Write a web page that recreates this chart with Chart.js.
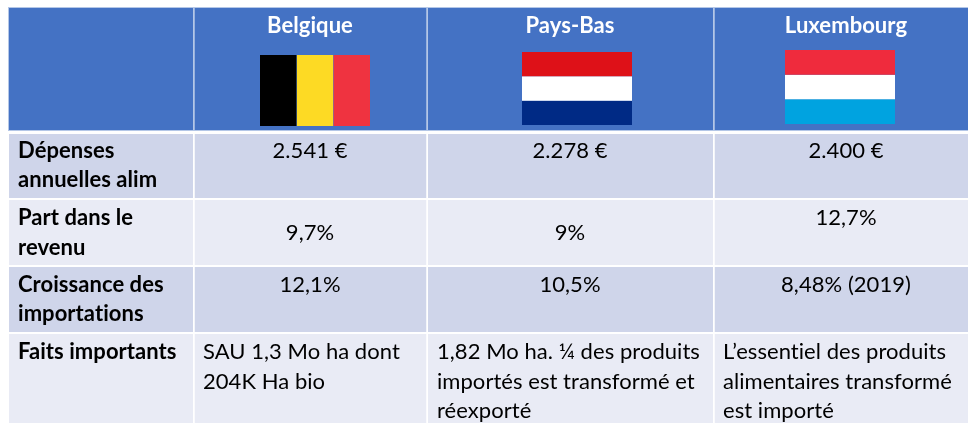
<!DOCTYPE html>
<html lang="fr">
<head>
<meta charset="utf-8">
<title>Belgique, Pays-Bas, Luxembourg</title>
<script src="https://cdn.jsdelivr.net/npm/chart.js@4/dist/chart.umd.min.js"></script>
<style>
    html, body { margin: 0; padding: 0; background: #fff; }
    canvas { display: block; }
</style>
</head>
<body>
<canvas id="table" width="968" height="423"></canvas>
<script>
// table content
const countries = ['Belgique', 'Pays-Bas', 'Luxembourg'];
const rowLabels = [['Dépenses', 'annuelles alim'], ['Part dans le', 'revenu'], ['Croissance des', 'importations'], ['Faits importants']];
const depenses = ['2.541 €', '2.278 €', '2.400 €'];
const partRevenu = ['9,7%', '9%', '12,7%'];
const croissance = ['12,1%', '10,5%', '8,48% (2019)'];
const faits = [
    ['SAU 1,3 Mo ha dont', '204K Ha bio'],
    ['1,82 Mo ha. ¼ des produits', 'importés est transformé et', 'réexporté'],
    ['L’essentiel des produits', 'alimentaires transformé', 'est importé']
];
const flagColors = [
    ['#000000', '#FDDA24', '#EF3340'],
    ['#DE1118', '#FFFFFF', '#002A85'],
    ['#EF2B3D', '#FFFFFF', '#00A3E0']
];

// geometry, in the picture's own units
const colSpans = [[9, 193], [194.5, 426.5], [428, 713], [714.5, 968]];
const rowSpans = [[8, 130], [134, 198], [200, 265], [267, 332], [334, 423]];
const rowFills = ['#4472C4', '#CFD5EA', '#E9EBF5', '#CFD5EA', '#E9EBF5'];
const colCenters = [310, 570, 846];
const factsLeft = [203, 437, 723];
const labelLeft = 18;
const flagBoxes = [[260, 370, 55, 126], [522, 632, 52, 125], [785, 895, 50, 124]];
const FONT = 'Lato, Carlito, sans-serif';

// a filled rectangle as a line dataset: the top edge filled down to y1
const rect = (x0, x1, y0, y1, color) => ({
    data: [{ x: x0, y: y0 }, { x: x1, y: y0 }],
    fill: { value: y1 },
    backgroundColor: color,
    borderWidth: 0,
    pointRadius: 0
});

// chart.js paints the first dataset last, so flags go in before the cells
const datasets = [];
flagBoxes.forEach((box, f) => {
    const [x0, x1, y0, y1] = box;
    flagColors[f].forEach((color, s) => {
        if (f === 0) {
            datasets.push(rect(x0 + (x1 - x0) * s / 3, x0 + (x1 - x0) * (s + 1) / 3, y0, y1, color));
        } else {
            datasets.push(rect(x0, x1, y0 + (y1 - y0) * s / 3, y0 + (y1 - y0) * (s + 1) / 3, color));
        }
    });
});
rowSpans.forEach((row, r) => {
    colSpans.forEach(col => datasets.push(rect(col[0], col[1], row[0], row[1], rowFills[r])));
});
// pale edge around the header
datasets.push(rect(8, 968, 7, 131, '#B4C7E7'));

const tableText = {
    id: 'tableText',
    afterDatasetsDraw(chart) {
        const { ctx, scales: { x, y } } = chart;
        const put = (str, px, py, align, weight, color) => {
            ctx.font = weight + ' 22px ' + FONT;
            ctx.letterSpacing = '0.05px'; // keeps Lato from joining "ti" into a ligature
            ctx.textAlign = align;
            ctx.textBaseline = 'alphabetic';
            ctx.fillStyle = color;
            ctx.fillText(str, x.getPixelForValue(px), y.getPixelForValue(py));
        };
        ctx.save();
        countries.forEach((name, i) => put(name, colCenters[i], 33, 'center', 'bold', '#FFFFFF'));

        const labelBase = [[158, 187], [225, 255], [292, 321], [359]];
        rowLabels.forEach((lines, r) => {
            lines.forEach((line, l) => put(line, labelLeft, labelBase[r][l], 'left', 'bold', '#000000'));
        });

        depenses.forEach((v, i) => put(v, colCenters[i], 158, 'center', 'normal', '#000000'));
        const partBase = [240, 240, 225];
        partRevenu.forEach((v, i) => put(v, colCenters[i], partBase[i], 'center', 'normal', '#000000'));
        croissance.forEach((v, i) => put(v, colCenters[i], 292, 'center', 'normal', '#000000'));

        const factBase = [359, 388.5, 418];
        faits.forEach((lines, c) => {
            lines.forEach((line, l) => put(line, factsLeft[c], factBase[l], 'left', 'normal', '#000000'));
        });
        ctx.restore();
    }
};

new Chart(document.getElementById('table'), {
    type: 'line',
    data: { datasets },
    options: {
        responsive: false,
        animation: false,
        layout: { padding: 0 },
        plugins: { legend: { display: false }, tooltip: { enabled: false } },
        scales: {
            x: { type: 'linear', display: false, min: 0, max: 968 },
            y: { type: 'linear', display: false, min: 0, max: 423, reverse: true }
        }
    },
    plugins: [tableText]
});
</script>
</body>
</html>
